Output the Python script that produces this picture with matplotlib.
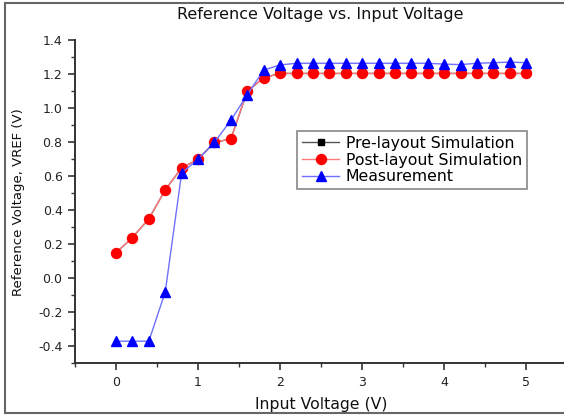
import matplotlib
matplotlib.use("Agg")
import matplotlib.pyplot as plt
from matplotlib.lines import Line2D
from matplotlib.ticker import MultipleLocator

plt.rcParams['font.family'] = ['DejaVu Sans']

vin = [0.0, 0.2, 0.4, 0.6, 0.8, 1.0, 1.2, 1.4, 1.6, 1.8, 2.0, 2.2, 2.4, 2.6,
       2.8, 3.0, 3.2, 3.4, 3.6, 3.8, 4.0, 4.2, 4.4, 4.6, 4.8, 5.0]
pre_layout = [0.15, 0.24, 0.35, 0.52, 0.65, 0.70, 0.80, 0.82, 1.10, 1.18, 1.205, 1.205, 1.205,
              1.205, 1.205, 1.205, 1.205, 1.205, 1.205, 1.205, 1.205, 1.205, 1.205, 1.205, 1.205, 1.205]
post_layout = [0.15, 0.24, 0.35, 0.52, 0.65, 0.70, 0.80, 0.82, 1.10, 1.18, 1.205, 1.205, 1.205,
               1.205, 1.205, 1.205, 1.205, 1.205, 1.205, 1.205, 1.205, 1.205, 1.205, 1.205, 1.205, 1.205]
measurement = [-0.37, -0.37, -0.37, -0.08, 0.62, 0.70, 0.80, 0.93, 1.08, 1.225, 1.255, 1.265, 1.265,
               1.265, 1.265, 1.265, 1.265, 1.265, 1.265, 1.265, 1.26, 1.257, 1.265, 1.268, 1.272, 1.268]

fig = plt.figure(figsize=(5.64, 4.16), dpi=100)
ax = fig.add_axes([75/564, (416-363.3)/416, (564-75)/564, (363.3-40.3)/416])

ax.plot(vin, pre_layout, color='#555555', lw=1.0, marker='s', ms=5,
        mfc='black', mec='black', label='Pre-layout Simulation')
ax.plot(vin, post_layout, color='#ff7a7a', lw=1.0, marker='o', ms=7.2,
        mfc='#ff0000', mec='#ff0000', label='Post-layout Simulation')
ax.plot(vin, measurement, color='#7070ff', lw=1.0, marker='^', ms=7.3,
        mfc='#0000ff', mec='#0000ff', label='Measurement')

ax.set_xlim(-0.5, 5.46)
ax.set_ylim(-0.5, 1.4)
ax.xaxis.set_minor_locator(MultipleLocator(0.5))
ax.yaxis.set_minor_locator(MultipleLocator(0.1))
ax.set_yticks([-0.4, -0.2, 0.0, 0.2, 0.4, 0.6, 0.8, 1.0, 1.2, 1.4])
ax.set_yticklabels(['-0.4', '-0.2', '0.0', '0.2', '0.4', '0.6', '0.8', '1.0', '1.2', '1.4'])
ax.set_xticks([0, 1, 2, 3, 4, 5])
ax.set_xticklabels(['0', '1', '2', '3', '4', '5'])

for s in ['top', 'right']:
    ax.spines[s].set_visible(False)
for s in ['left', 'bottom']:
    ax.spines[s].set_linewidth(1.4)
    ax.spines[s].set_color('#333333')
ax.tick_params(which='major', direction='out', length=5, width=1.2, colors='#333333',
               labelsize=9, labelcolor='#222222', pad=4)
ax.tick_params(which='minor', direction='out', length=3, width=1.0, colors='#333333')

fig.text(320/564, 1-15/416, 'Reference Voltage vs. Input Voltage', ha='center', va='center',
         fontsize=11.5, color='#111111')
fig.text(321.5/564, 1-405/416, 'Input Voltage (V)', ha='center', va='center',
         fontsize=11.3, color='#111111')
fig.text(19/564, 1-202.5/416, 'Reference Voltage, VREF (V)', ha='center', va='center',
         rotation=90, fontsize=9.5, color='#111111')

leg = ax.legend(loc='upper left', bbox_to_anchor=((297-75)/489, (363.3-131)/323),
                borderaxespad=0, fontsize=11.3, frameon=True, fancybox=False,
                edgecolor='#888888', framealpha=1, handlelength=2.4, handletextpad=0.4,
                labelspacing=0.12, borderpad=0.3, numpoints=1)
leg.get_frame().set_linewidth(1.2)

x0, y0, y1 = 5/564, 3/416, 1 - 3/416
for xs, ys in [([x0, 1.0], [y1, y1]), ([x0, x0], [y0, y1]), ([x0, 1.0], [y0, y0])]:
    fig.add_artist(Line2D(xs, ys, transform=fig.transFigure, color='#666666', lw=1.5))

fig.savefig('out.png', dpi=100)
